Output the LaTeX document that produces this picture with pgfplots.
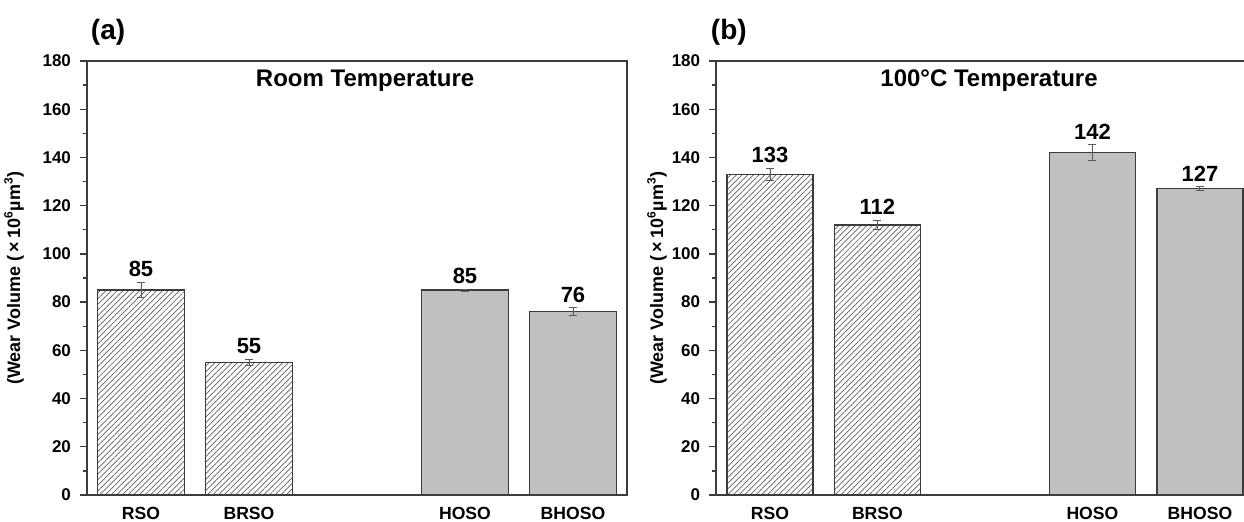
\documentclass[border=0pt]{standalone}
\usepackage{fontspec}
\setmainfont{Liberation Sans}
\usepackage{pgfplots}
\pgfplotsset{compat=1.18}
\usetikzlibrary{patterns.meta}
\definecolor{barfill}{RGB}{192,192,192}
\definecolor{edge}{RGB}{60,60,60}
\definecolor{hatch}{RGB}{95,95,95}
\definecolor{errc}{RGB}{90,90,90}

\newcommand{\tickfont}{\bfseries\fontsize{8.5}{10}\selectfont}
\newcommand{\catfont}{\bfseries\fontsize{8.8}{10}\selectfont}
\newcommand{\valfont}{\bfseries\fontsize{11}{12}\selectfont}

\pgfplotsset{
  wearpanel/.style={
    scale only axis, height=217pt,
    ymin=0, ymax=180, xmin=0.5,
    clip mode=individual,
    /pgf/number format/assume math mode=true,
    ytick={0,20,...,180}, minor y tick num=1,
    ytick pos=left, tick align=outside,
    major tick length=3.5pt, minor tick length=2pt,
    tick style={edge, line width=0.7pt},
    xtick={1,2,4,5}, xticklabels={RSO,BRSO,HOSO,BHOSO},
    xtick style={draw=none},
    axis line style={edge, line width=0.85pt},
    yticklabel style={font=\tickfont, xshift=-1pt},
    xticklabel style={font=\catfont, anchor=north, inner sep=0pt, yshift=-2.5pt},
    ylabel={(Wear Volume (\,×\,10\textsuperscript{6}µm\textsuperscript{3})},
    ylabel style={font=\bfseries\fontsize{9}{10}\selectfont, anchor=center},
  },
  bars/.style={ybar, bar width=0.8, bar shift=0pt, draw=edge, line width=0.6pt,
    error bars/y dir=both, error bars/y explicit,
    error bars/error bar style={errc, line width=0.45pt},
    error bars/error mark options={rotate=90, mark size=2pt, errc, line width=0.45pt}},
  hatched/.style={bars, pattern={Lines[angle=45, distance=2pt, line width=0.35pt]}, pattern color=hatch},
  solid/.style={bars, fill=barfill},
  vals/.style={draw=none, mark=none, nodes near coords, point meta=explicit symbolic,
    nodes near coords style={anchor=south, inner sep=0pt, yshift=2.5pt, font=\valfont, text=black}},
}

\begin{document}
\begin{tikzpicture}
\useasboundingbox (0,0) rectangle (622pt,260.5pt);

% (a) room temperature
\begin{axis}[wearpanel, at={(43.5pt,13pt)}, anchor=south west, width=270pt, xmax=5.5,
  ylabel style={at={(axis description cs:-0.135,0.5)}}]
\addplot[hatched] coordinates {(1,85) +- (0,3.1) (2,55) +- (0,1.4)};
\addplot[solid] coordinates {(4,85) +- (0,0.4) (5,76) +- (0,1.6)};
\addplot[vals] coordinates {(1,88.1)[85] (2,56.4)[55] (4,85.4)[85] (5,77.6)[76]};
\node[font=\bfseries\fontsize{12}{14}\selectfont] at (rel axis cs:0.515,0.954) {Room Temperature};
\node[font=\bfseries\fontsize{14}{16}\selectfont] at (rel axis cs:0.039,1.067) {(a)};
\end{axis}

% (b) 100 C
\begin{axis}[wearpanel, at={(358.1pt,13pt)}, anchor=south west, width=263.9pt, xmax=5.41,
  axis y line*=left,
  ylabel style={at={(axis description cs:-0.112,0.5)}}]
\addplot[hatched] coordinates {(1,133) +- (0,2.6) (2,112) +- (0,2)};
\addplot[solid] coordinates {(4,142) +- (0,3.2) (5,127) +- (0,0.8)};
\addplot[vals] coordinates {(1,135.6)[133] (2,114)[112] (4,145.2)[142] (5,127.8)[127]};
\node[font=\bfseries\fontsize{12}{14}\selectfont] at (rel axis cs:0.517,0.954) {100°C Temperature};
\node[font=\bfseries\fontsize{14}{16}\selectfont] at (rel axis cs:0.024,1.067) {(b)};
\end{axis}
\end{tikzpicture}
\end{document}
